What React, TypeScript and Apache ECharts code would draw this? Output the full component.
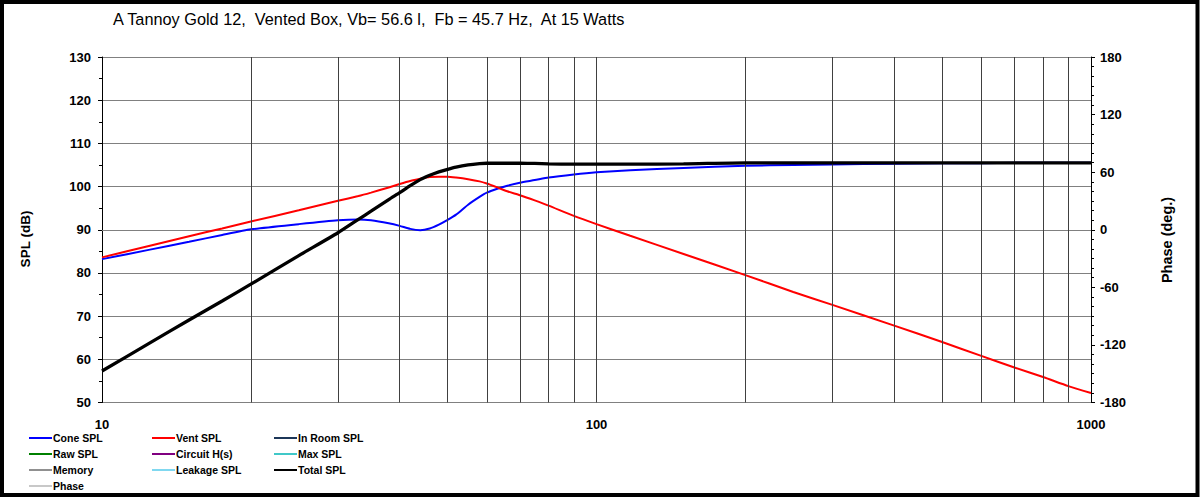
import React, { useEffect, useRef } from "react";
import * as echarts from "echarts";

// Frequencies (Hz) shared by all curves
const freq = [10, 12.5, 15, 17.5, 20, 25, 30, 33, 35, 38, 40, 42, 44, 46, 48, 50, 52, 55, 58, 60, 63, 66, 70, 75, 80, 90, 100, 117, 150, 200, 250, 300, 400, 500, 600, 700, 800, 900, 1000];

// Cone SPL (dB)
const coneSPL = [83.2, 85.4, 87.2, 88.8, 90.1, 91.3, 92.2, 92.4, 92.2, 91.5, 90.9, 90.2, 89.9, 90.3, 91.2, 92.3, 93.5, 95.8, 97.6, 98.6, 99.5, 100.2, 100.9, 101.5, 102.1, 102.8, 103.3, 103.8, 104.3, 104.8, 105.0, 105.1, 105.3, 105.4, 105.4, 105.5, 105.5, 105.5, 105.5];

// Vent SPL (dB)
const ventSPL = [83.6, 86.3, 88.5, 90.3, 91.9, 94.5, 96.7, 97.8, 98.6, 99.8, 100.6, 101.3, 101.8, 102.2, 102.3, 102.3, 102.1, 101.7, 101.2, 100.7, 99.8, 98.9, 98.0, 96.8, 95.6, 93.2, 91.3, 88.6, 84.4, 79.5, 75.6, 72.6, 67.8, 64.0, 60.8, 58.1, 55.9, 53.8, 52.2];

// Total SPL (dB)
const totalSPL = [57.3, 63.8, 69.1, 73.5, 77.4, 84.0, 89.3, 92.4, 94.3, 97.0, 98.6, 100.2, 101.6, 102.6, 103.4, 104.0, 104.5, 105.0, 105.3, 105.4, 105.4, 105.4, 105.4, 105.35, 105.25, 105.2, 105.2, 105.2, 105.25, 105.5, 105.5, 105.5, 105.5, 105.5, 105.5, 105.5, 105.5, 105.5, 105.5];

// Minor log grid frequencies
const gridFreqs = [20, 30, 40, 50, 60, 70, 80, 90, 200, 300, 400, 500, 600, 700, 800, 900];

const legendNames = [
  ["Cone SPL", "Vent SPL", "In Room SPL"],
  ["Raw SPL", "Circuit H(s)", "Max SPL"],
  ["Memory", "Leakage SPL", "Total SPL"],
  ["Phase"],
];
const legendColors = [
  ["#0000ff", "#ff0000", "#1c3658"],
  ["#008000", "#800080", "#40c8c8"],
  ["#909090", "#80d8f0", "#000000"],
  ["#c8c8c8"],
];

const titleText = "A Tannoy Gold 12,  Vented Box, Vb= 56.6 l,  Fb = 45.7 Hz,  At 15 Watts";
const FONT = "'Liberation Sans', Arial, Helvetica, sans-serif";

function pairs(ys: number[]) {
  return freq.map((f, i) => [f, ys[i]]);
}

export default function App() {
  const ref = useRef<HTMLDivElement>(null);
  useEffect(() => {
    document.body.style.margin = "0";
    if (!ref.current) return;
    const chart = echarts.init(ref.current, undefined, { renderer: "svg" });

    const colX = [29, 152, 274];
    const rowY = [438, 454, 470, 486];
    const legendGraphics: any[] = [];
    legendNames.forEach((row, r) => {
      row.forEach((name, c) => {
        legendGraphics.push({
          type: "line",
          shape: { x1: colX[c], y1: rowY[r], x2: colX[c] + 23, y2: rowY[r] },
          style: { stroke: legendColors[r][c], lineWidth: 2 },
          silent: true,
        });
        legendGraphics.push({
          type: "text",
          x: colX[c] + 24,
          y: rowY[r],
          style: {
            text: name,
            fill: "#000",
            font: `bold 10.5px ${FONT}`,
            verticalAlign: "middle",
            align: "left",
          },
          silent: true,
        });
      });
    });

    const lineCommon = { type: "line", showSymbol: false, smooth: 0.2 };

    const option: any = {
      animation: false,
      backgroundColor: "#ffffff",
      title: {
        text: titleText,
        left: 113,
        top: 11,
        padding: 0,
        textStyle: { fontSize: 16.3, fontWeight: "normal", color: "#000", fontFamily: FONT },
      },
      grid: { left: 102, right: 109, top: 57, bottom: 94.5, containLabel: false },
      xAxis: {
        type: "log",
        logBase: 10,
        min: 10,
        max: 1000,
        axisLine: { show: true, lineStyle: { color: "#808080", width: 1 } },
        axisTick: { show: false },
        axisLabel: {
          margin: 15,
          color: "#000",
          fontWeight: "bold",
          fontSize: 13,
          fontFamily: FONT,
          formatter: (v: number) => String(Math.round(v)),
        },
        splitLine: { show: true, lineStyle: { color: "#404040", width: 1 } },
      },
      yAxis: [
        {
          type: "value",
          min: 50,
          max: 130,
          interval: 10,
          position: "left",
          axisLine: { show: true, lineStyle: { color: "#000", width: 1 } },
          axisTick: { show: true, length: 4, lineStyle: { color: "#000" } },
          minorTick: { show: true, splitNumber: 2, length: 3, lineStyle: { color: "#000" } },
          axisLabel: { margin: 11, color: "#000", fontWeight: "bold", fontSize: 13, fontFamily: FONT },
          splitLine: { show: true, lineStyle: { color: "#808080", width: 1 } },
        },
        {
          type: "value",
          min: -180,
          max: 180,
          interval: 60,
          position: "right",
          axisLine: { show: true, lineStyle: { color: "#000", width: 1 } },
          axisTick: { show: true, length: 4, lineStyle: { color: "#000" } },
          minorTick: { show: true, splitNumber: 6, length: 3, lineStyle: { color: "#000" } },
          axisLabel: { margin: 9, color: "#000", fontWeight: "bold", fontSize: 13, fontFamily: FONT },
          splitLine: { show: false },
        },
      ],
      graphic: [
        {
          type: "text",
          x: 25,
          y: 239,
          rotation: Math.PI / 2,
          style: { text: "SPL (dB)", fill: "#000", font: `bold 13.5px ${FONT}`, align: "center", verticalAlign: "middle" },
          silent: true,
        },
        {
          type: "text",
          x: 1167,
          y: 240,
          rotation: Math.PI / 2,
          style: { text: "Phase (deg.)", fill: "#000", font: `bold 14.5px ${FONT}`, align: "center", verticalAlign: "middle" },
          silent: true,
        },
        ...legendGraphics,
        {
          type: "rect",
          shape: { x: 2, y: 2, width: 1195.5, height: 493 },
          style: { fill: "none", stroke: "#000", lineWidth: 4 },
          silent: true,
          z: 100,
        },
      ],
      series: [
        {
          name: "grid",
          type: "line",
          data: [],
          silent: true,
          z: 1,
          markLine: {
            silent: true,
            symbol: ["none", "none"],
            label: { show: false },
            lineStyle: { color: "#404040", width: 1, type: "solid" },
            emphasis: { disabled: true },
            data: gridFreqs.map((f) => ({ xAxis: f })),
          },
        },
        {
          ...lineCommon,
          name: "Cone SPL",
          data: pairs(coneSPL),
          lineStyle: { color: "#0000ff", width: 2 },
          itemStyle: { color: "#0000ff" },
          z: 3,
        },
        {
          ...lineCommon,
          name: "Vent SPL",
          data: pairs(ventSPL),
          lineStyle: { color: "#ff0000", width: 2 },
          itemStyle: { color: "#ff0000" },
          z: 4,
        },
        {
          ...lineCommon,
          name: "Total SPL",
          data: pairs(totalSPL),
          lineStyle: { color: "#000000", width: 3.3 },
          itemStyle: { color: "#000000" },
          z: 5,
        },
      ],
    };
    chart.setOption(option);
    return () => chart.dispose();
  }, []);
  return <div ref={ref} style={{ width: 1200, height: 497 }} />;
}
